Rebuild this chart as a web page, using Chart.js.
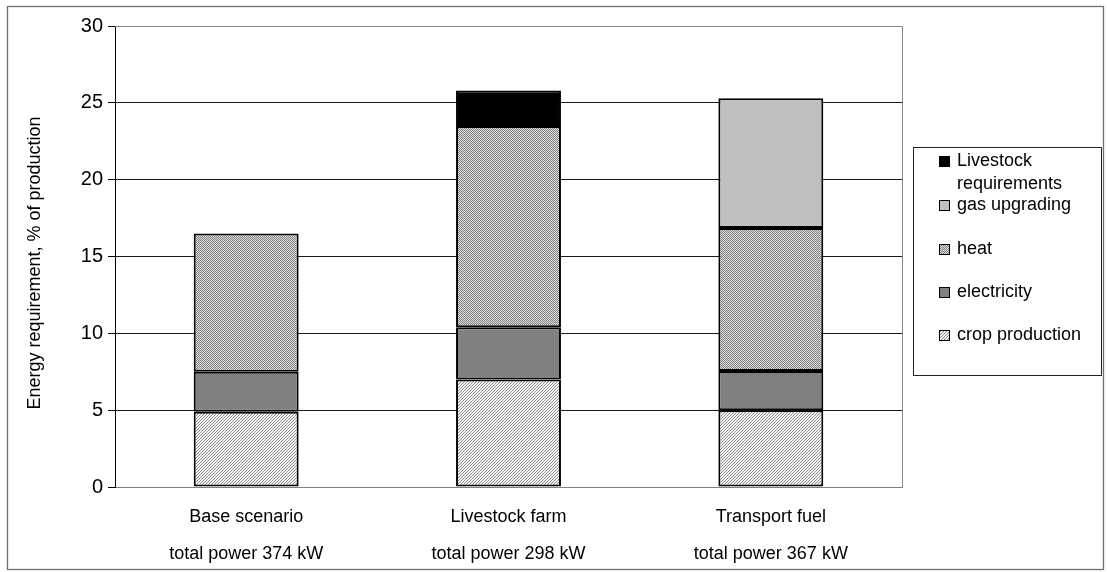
<!DOCTYPE html>
<html><head><meta charset="utf-8">
<script src="https://cdn.jsdelivr.net/npm/chart.js@4.4.1/dist/chart.umd.min.js"></script>
<style>html,body{margin:0;padding:0;background:#fff}#wrap{width:1107px;height:572px}</style>
</head><body><div id="wrap"><canvas id="c" width="1107" height="572"></canvas></div>
<script>
const categories = [["Base scenario","total power 374 kW"],["Livestock farm","total power 298 kW"],["Transport fuel","total power 367 kW"]];
const cropProduction = [4.9, 7.0, 5.0];
const electricity = [2.6, 3.4, 2.55];
const heat = [9.0, 13.1, 9.3];
const gasUpgrading = [null, null, 8.45];
const livestockReq = [null, 2.3, null];
const yTicks = [0,5,10,15,20,25,30];
const yTitle = 'Energy requirement, % of production';

function tile(w,h,fn){const c=document.createElement('canvas');c.width=w;c.height=h;const x=c.getContext('2d');fn(x);return c;}
const ctx0=document.getElementById('c').getContext('2d');
const cropTile=tile(3,3,x=>{x.fillStyle='#f6f6f6';x.fillRect(0,0,3,3);x.fillStyle='#8c8c8c';for(let i=0;i<3;i++)x.fillRect(i,2-i,1,1);});
const heatTile=tile(2,2,x=>{x.fillStyle='#dedede';x.fillRect(0,0,2,2);x.fillStyle='#808080';x.fillRect(0,0,1,1);x.fillRect(1,1,1,1);});
const cropPat=ctx0.createPattern(cropTile,'repeat');
const heatPat=ctx0.createPattern(heatTile,'repeat');

const FONT='"Liberation Sans", Arial, sans-serif';
const common={borderColor:'#000',borderWidth:2,borderSkipped:false,categoryPercentage:1.0,barPercentage:0.4};
const datasets=[
 {label:'crop production',data:cropProduction,backgroundColor:cropPat,...common},
 {label:'electricity',data:electricity,backgroundColor:'#808080',...common},
 {label:'heat',data:heat,backgroundColor:heatPat,...common},
 {label:'gas upgrading',data:gasUpgrading,backgroundColor:'#c0c0c0',...common},
 {label:'Livestock requirements',data:livestockReq,backgroundColor:'#000',...common}
];

const frame={
 id:'frame',
 beforeDraw(chart){const c=chart.ctx;c.save();c.fillStyle='#fff';c.fillRect(0,0,chart.width,chart.height);c.restore();},
 afterDraw(chart){
  const c=chart.ctx, a=chart.chartArea;
  c.save();
  c.strokeStyle='#6e6e6e';c.lineWidth=1.3;
  c.strokeRect(7.5,6.5,1096,563);
  c.strokeStyle='#8a8a8a';c.lineWidth=1;
  c.beginPath();c.moveTo(a.left,a.top+0.5);c.lineTo(a.right+0.5,a.top+0.5);c.lineTo(a.right+0.5,a.bottom);c.stroke();
  // y title
  c.save();c.translate(35,263);c.rotate(-Math.PI/2);
  c.font='18px '+FONT;c.fillStyle='#000';c.textAlign='center';c.textBaseline='middle';
  c.fillText(yTitle,0,0);c.restore();
  // legend
  c.strokeStyle='#222';c.lineWidth=1;
  c.strokeRect(913.5,147.5,188,228);
  const entries=[
   {ds:4,lines:['Livestock','requirements'],y:161},
   {ds:3,lines:['gas upgrading'],y:205},
   {ds:2,lines:['heat'],y:249},
   {ds:1,lines:['electricity'],y:292},
   {ds:0,lines:['crop production'],y:335}
  ];
  c.font='18px '+FONT;c.textBaseline='middle';c.textAlign='left';
  entries.forEach(e=>{
   const d=chart.data.datasets[e.ds];
   c.fillStyle=d.backgroundColor;c.fillRect(939,e.y-5,11,11);
   c.strokeStyle='#000';c.lineWidth=1;c.strokeRect(939.5,e.y-4.5,10,10);
   c.fillStyle='#000';
   e.lines.forEach((t,i)=>c.fillText(t,957,e.y+i*23));
  });
  c.restore();
 }
};

new Chart(document.getElementById('c'),{
 type:'bar',
 data:{labels:categories,datasets},
 options:{
  responsive:false,animation:false,devicePixelRatio:1,
  layout:{padding:{left:0,right:205,top:26,bottom:0}},
  plugins:{legend:{display:false},tooltip:{enabled:false}},
  scales:{
   x:{stacked:true,
      grid:{display:false,drawTicks:false},
      border:{display:true,color:'#808080',width:1},
      ticks:{color:'#000',font:{family:FONT,size:18,lineHeight:'37px'},padding:12,maxRotation:0,autoSkip:false},
      afterFit(s){s.height=85;}
   },
   y:{stacked:true,min:0,max:30,
      afterBuildTicks(s){s.ticks=yTicks.map(v=>({value:v}));},
      grid:{color:(c)=>(c.tick&&(c.tick.value===0||c.tick.value===30))?'#8a8a8a':'#1a1a1a',lineWidth:1,tickLength:7,tickColor:'#000'},
      border:{display:true,color:'#000',width:1},
      ticks:{color:'#000',font:{family:FONT,size:20},padding:5},
      title:{display:false},
      afterFit(s){s.width=115;}
   }
  }
 },
 plugins:[frame]
});
</script></body></html>
